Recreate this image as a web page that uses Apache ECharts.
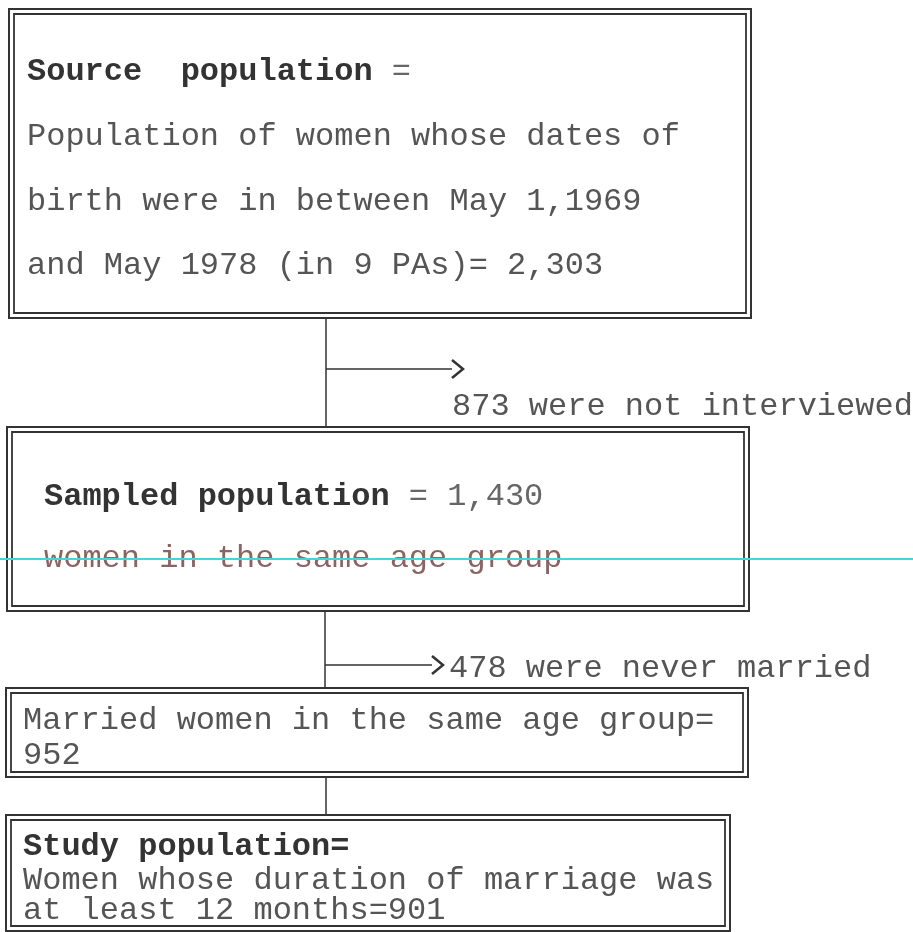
<!DOCTYPE html>
<html>
<head>
<meta charset="utf-8">
<title>Study population flow</title>
<script src="https://cdn.jsdelivr.net/npm/echarts@6/dist/echarts.min.js"></script>
<style>
  html, body { margin: 0; padding: 0; background: #fff; }
  #chart { width: 913px; height: 932px; }
</style>
</head>
<body>
<div id="chart"></div>
<script>
// texts of the flow chart
const boxHeads = [
  ['Source  population', ' ='],
  ['Sampled population', ' = 1,430'],
  null,
  ['Study population=', '']
];
const boxLines = [
  ['Population of women whose dates of', 'birth were in between May 1,1969', 'and May 1978 (in 9 PAs)= 2,303'],
  ['women in the same age group'],
  ['Married women in the same age group=', '952'],
  ['Women whose duration of marriage was', 'at least 12 months=901']
]
const exclusions = ['873 were not interviewed', '478 were never married']

// layout (pixels)
const boxes = [
  { x: 9, y: 9, w: 742, h: 309, tx: 27, base: [78, 143, 208, 272] },
  { x: 7, y: 427, w: 742, h: 184, tx: 44, base: [503, 565] },
  { x: 6, y: 688, w: 742, h: 89, tx: 23, base: [727, 762] },
  { x: 6, y: 815, w: 724, h: 116, tx: 23, base: [853, 887, 917] }
]
const links = [
  { x: 326, y1: 318, y2: 427, by: 369, bx: 452, tx: 452, ty: 413 },
  { x: 325, y1: 611, y2: 688, by: 665, bx: 432, tx: 449, ty: 675 },
  { x: 326, y1: 777, y2: 815 }
]

const FS = 32
const FONT = '"Liberation Mono", "DejaVu Sans Mono", monospace'
const lineColor = '#333'
const textColor = '#555'

function txt (x, baseline, text) {
  return {
    type: 'text',
    x: x,
    y: baseline - FS * 0.2,
    style: {
      text: text,
      fill: textColor,
      font: FS + 'px ' + FONT,
      textAlign: 'left',
      verticalAlign: 'middle'
    }
  }
}

const elements = []

boxes.forEach((b, i) => {
  elements.push({
    type: 'rect',
    shape: { x: b.x, y: b.y, width: b.w, height: b.h },
    style: { fill: '#fff', stroke: lineColor, lineWidth: 2 }
  })
  elements.push({
    type: 'rect',
    shape: { x: b.x + 5, y: b.y + 5, width: b.w - 10, height: b.h - 10 },
    style: { fill: 'none', stroke: lineColor, lineWidth: 1.8 }
  })
  let row = 0
  const head = boxHeads[i]
  if (head) {
    elements.push({
      type: 'text',
      x: b.tx,
      y: b.base[0] - FS * 0.2,
      style: {
        text: '{b|' + head[0] + '}{n|' + head[1] + '}',
        textAlign: 'left',
        verticalAlign: 'middle',
        rich: {
          b: { font: 'bold ' + FS + 'px ' + FONT, fill: '#333' },
          n: { font: FS + 'px ' + FONT, fill: '#666' }
        }
      }
    })
    row = 1
  }
  boxLines[i].forEach((line, j) => {
    const t = txt(b.tx, b.base[row + j], line)
    if (i === 1) t.style.fill = '#8a6464'
    elements.push(t)
  })
})

links.forEach((l, i) => {
  elements.push({
    type: 'line',
    shape: { x1: l.x, y1: l.y1, x2: l.x, y2: l.y2 },
    style: { stroke: lineColor, lineWidth: 1.5 }
  })
  if (l.by) {
    elements.push({
      type: 'line',
      shape: { x1: l.x, y1: l.by, x2: l.bx, y2: l.by },
      style: { stroke: lineColor, lineWidth: 1.5 }
    })
    elements.push({
      type: 'polyline',
      shape: { points: [[l.bx, l.by - 9], [l.bx + 11, l.by], [l.bx, l.by + 9]] },
      style: { stroke: lineColor, lineWidth: 2.5, fill: 'none' }
    })
    elements.push(txt(l.tx, l.ty, exclusions[i]))
  }
})

// scan artefact: cyan rule across the page
elements.push({
  type: 'line',
  shape: { x1: 0, y1: 559, x2: 913, y2: 559 },
  style: { stroke: '#46d6d8', lineWidth: 2 }
})

const chart = echarts.init(document.getElementById('chart'))
chart.setOption({
  backgroundColor: '#fff',
  animation: false,
  graphic: { elements: elements }
})
window.addEventListener('resize', () => chart.resize())
</script>
</body>
</html>
